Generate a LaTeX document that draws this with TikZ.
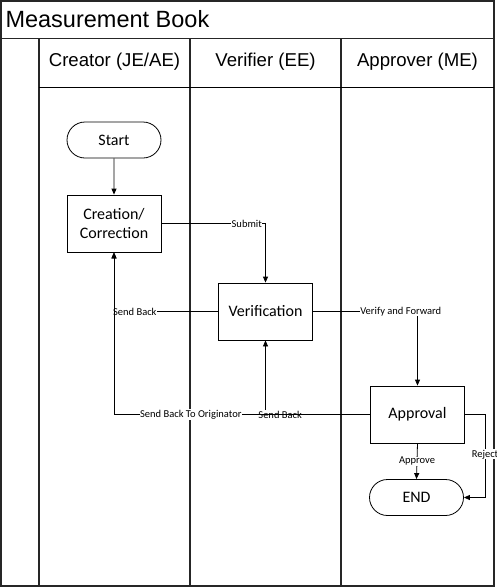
\documentclass[tikz,border=0pt]{standalone}
\usepackage{fontspec}
\setmainfont{Liberation Sans}
\newfontfamily\calibri{Carlito}
\usetikzlibrary{arrows.meta,shapes.misc}
\begin{document}
\begin{tikzpicture}[x=1pt,y=-1pt,
  frame/.style={line width=1.6pt,draw=black!85},
  lane/.style={line width=1.3pt,draw=black!85},
  proc/.style={draw,line width=0.8pt,minimum width=94pt,minimum height=57pt,inner sep=0pt,font=\calibri\fontsize{16}{19}\selectfont,align=center},
  term/.style={draw,line width=0.8pt,rounded rectangle,minimum width=94pt,minimum height=36pt,inner sep=0pt,font=\calibri\fontsize{16}{19}\selectfont},
  conn/.style={line width=0.8pt,-{Triangle[length=6pt,width=5pt]}},
  lbl/.style={font=\calibri\fontsize{10.5}{12}\selectfont,fill=white,inner sep=0.5pt},
  hdr/.style={font=\fontsize{18.6}{22}\selectfont}
]
\useasboundingbox (0,0) rectangle (497,587);
% frame
\draw[frame] (1,1) rectangle (494,586);
\draw[frame] (1,38.5) -- (494,38.5);
\draw[lane] (39,38.5) -- (39,586);
\draw[lane] (190,38.5) -- (190,586);
\draw[lane] (341,38.5) -- (341,586);
\draw[line width=1pt] (39,87) -- (494,87);
\node[anchor=west,font=\fontsize{23.5}{28}\selectfont] (title) at (2,19) {Measurement Book};
\node[hdr] (h1) at (114.5,62) {Creator (JE/AE)};
\node[hdr] (h2) at (265.5,62) {Verifier (EE)};
\node[hdr] (h3) at (417.5,62) {Approver (ME)};
% nodes
\node[term] (start) at (114,140) {Start};
\node[proc] (create) at (114,223.5) {Creation/\\Correction};
\node[proc] (verif) at (265.5,311.5) {Verification};
\node[proc] (appr) at (417.5,414.5) {Approval};
\node[term] (end) at (416.5,497.5) {END};
% connectors
\draw[conn] (start) -- (create);
\draw[conn] (create.east) -| node[lbl,pos=0.41] {Submit} (verif.north);
\draw[conn] (verif.east) -| node[lbl,pos=0.42] {Verify and Forward} (appr.north);
\draw[conn] (verif.west) -| node[lbl,pos=0.4] {Send Back} (create.south);
\draw[conn] (appr.west) -| node[lbl,pos=0.43] {Send Back} (verif.south);
\draw[conn] (appr.west) -| node[lbl,pos=0.35] {Send Back To Originator} (create.south);
\draw[conn] (appr.south) -- node[lbl] {Approve} (end.north);
\coordinate (rj) at (485,414.5);
\draw[conn] (appr.east) -- (rj) |- node[lbl,pos=0.24] {Reject} (end.east);
\end{tikzpicture}
\end{document}
